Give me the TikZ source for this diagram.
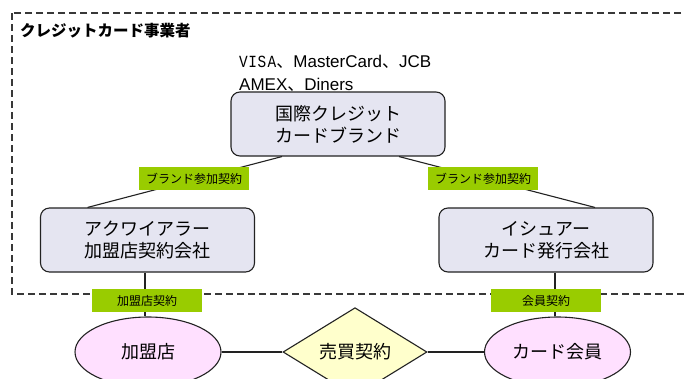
\documentclass[tikz,border=0pt]{standalone}
\usepackage{fontspec}
\setmainfont{Noto Sans CJK JP}
\newfontfamily\lat{Liberation Sans}
\newfontfamily\narrowmono{Liberation Mono}[FakeStretch=0.85]
\usetikzlibrary{shapes.geometric,calc}
\definecolor{boxfill}{HTML}{E5E5F1}
\definecolor{lblgreen}{HTML}{99CC00}
\definecolor{pinkfill}{HTML}{FFE0FF}
\definecolor{yelfill}{HTML}{FFFFCC}
\definecolor{edge}{HTML}{222222}
\tikzset{
  entbox/.style={draw=edge, line width=1.1pt, fill=boxfill, rounded corners=9pt,
    minimum width=214pt, minimum height=64pt, inner sep=0pt, align=center,
    font=\fontsize{18}{22}\selectfont},
  lbl/.style={fill=lblgreen, minimum width=110pt, minimum height=23pt, inner sep=0pt,
    font=\fontsize{12}{13}\selectfont},
  party/.style={ellipse, draw=edge, line width=1.1pt, fill=pinkfill, minimum width=146pt,
    minimum height=70pt, inner sep=0pt, font=\fontsize{18}{22}\selectfont},
  deal/.style={diamond, draw=edge, line width=1.1pt, fill=yelfill, minimum width=144pt,
    minimum height=68pt, inner sep=0pt, font=\fontsize{18}{22}\selectfont},
  conn/.style={draw=edge, line width=1.1pt},
  group/.style={draw=edge!90, dashed, dash pattern=on 7pt off 4pt, line width=1.4pt},
  brandtxt/.style={anchor=base west, inner sep=0pt, font=\fontsize{17}{20}\selectfont}
}
\begin{document}
\begin{tikzpicture}[x=1pt,y=-1pt]
\useasboundingbox (0,0) rectangle (684,378);
\clip (0,0) rectangle (684,378);
\fill[white] (0,0) rectangle (684,378);
% dashed group
\draw[group] (12,13) rectangle (720,294);
\node[anchor=west, font=\fontsize{15.5}{18}\selectfont\bfseries, inner sep=0pt] (title) at (20,31) {クレジットカード事業者};
\node[brandtxt] (brands1) at (239,67.3)
  {{\narrowmono V\kern0.5pt I\kern0.5pt S\kern1.5pt A}、{\lat MasterCard}、{\lat JCB}};
\node[brandtxt] (brands2) at (239,90)
  {{\lat AMEX}、{\lat Diners}};
% boxes
\node[entbox] (brand) at (338,124) {国際クレジット\\カードブランド};
\node[entbox] (acq) at (147.5,240) {アクワイアラー\\加盟店契約会社};
\node[entbox] (iss) at (546,240) {イシュアー\\カード発行会社};
\node[party] (shop) at (148,352) {加盟店};
\node[deal] (sale) at (355,352) {売買契約};
\node[party] (member) at (557.5,352) {カード会員};
% connectors
\draw[conn] ([xshift=-56pt]brand.south) -- ([xshift=-60pt]acq.north);
\draw[conn] ([xshift=61pt]brand.south) -- ([xshift=49pt]iss.north);
\draw[conn] ([xshift=-2.5pt]acq.south) -- ([xshift=-2.5pt]acq.south |- shop.north);
\draw[conn] ([xshift=9pt]iss.south) -- ([xshift=9pt]iss.south |- member.north);
\draw[conn] (shop.east) -- (sale.west);
\draw[conn] (sale.east) -- (member.west);
% labels
\node[lbl] (l1) at (194,178.5) {ブランド参加契約};
\node[lbl] (l2) at (483,178.5) {ブランド参加契約};
\node[lbl] (l3) at (147,300.5) {加盟店契約};
\node[lbl] (l4) at (546,300.5) {会員契約};
\end{tikzpicture}
\end{document}
